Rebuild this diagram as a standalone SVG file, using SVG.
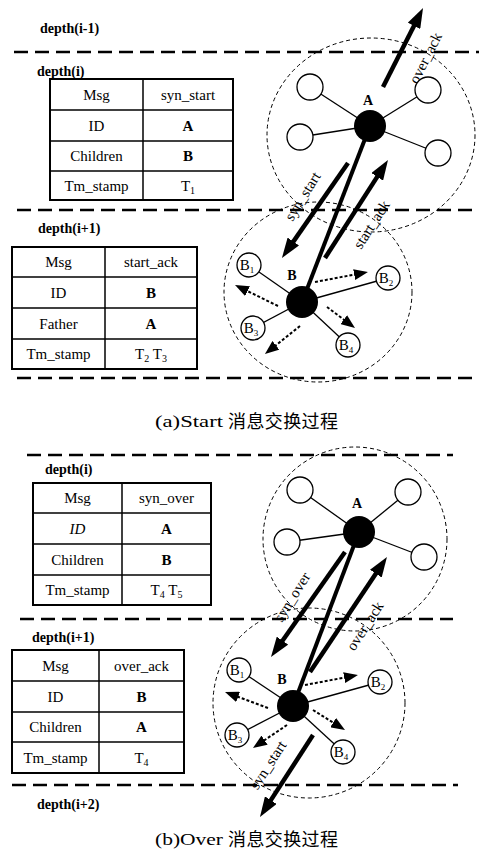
<svg xmlns="http://www.w3.org/2000/svg" width="479" height="852" viewBox="0 0 479 852">
<style>
.hd{stroke:#000;stroke-width:2.5;stroke-dasharray:14 7;fill:none}
.circ{fill:none;stroke:#000;stroke-width:1;stroke-dasharray:4 3}
.frame{fill:#fff;stroke:#000;stroke-width:2}
.grid{stroke:#000;stroke-width:1.5}
.t{font-family:"Liberation Serif",serif;font-size:15px;text-anchor:middle;fill:#000}
.b{font-weight:bold}
.dep{font-family:"Liberation Serif",serif;font-size:14px;font-weight:bold;fill:#000}
.lab{font-family:"Liberation Serif",serif;font-size:15px;text-anchor:middle;dominant-baseline:central;fill:#000}
.nl{font-family:"Liberation Serif",serif;font-size:14px;font-weight:bold;text-anchor:middle;fill:#000}
.open{fill:#fff;stroke:#000;stroke-width:1.3}
.hub{fill:#000}
.edge{stroke:#000;stroke-width:1.3}
.thick{stroke:#000;stroke-width:4;fill:none}
.thk{stroke:#000;stroke-width:4.5;fill:none;marker-end:url(#big)}
.dot{stroke:#000;stroke-width:2;stroke-dasharray:3 2;fill:none;marker-end:url(#small)}
.cap{font-family:"Liberation Serif",serif;font-size:17px;fill:#000}
.cjk{font-family:"Noto Sans CJK SC",sans-serif;font-size:18px;fill:#000}
</style>
<defs>
<marker id="big" markerUnits="userSpaceOnUse" markerWidth="20" markerHeight="14" refX="8" refY="7" orient="auto"><path d="M0,0 L20,7 L0,14 z" fill="#000"/></marker>
<marker id="small" markerUnits="userSpaceOnUse" markerWidth="14" markerHeight="11" refX="6" refY="5.5" orient="auto"><path d="M0,0 L14,5.5 L0,11 z" fill="#000"/></marker>
</defs>
<rect width="479" height="852" fill="#fff"/>

<!-- ===== (a) ===== -->
<g id="levels-a">
<text class="dep" x="40" y="33">depth(i-1)</text>
<line class="hd" x1="14" y1="52" x2="479" y2="52"/>
<text class="dep" x="37" y="76">depth(i)</text>
<line class="hd" x1="17" y1="210" x2="479" y2="210"/>
<text class="dep" x="38" y="233">depth(i+1)</text>
<line class="hd" x1="17" y1="378" x2="479" y2="378"/>
</g>

<g id="table-syn-start">
<rect class="frame" x="50" y="79" width="183" height="121"/>
<line class="grid" x1="143" y1="79" x2="143" y2="200"/>
<line class="grid" x1="50" y1="110" x2="233" y2="110"/>
<line class="grid" x1="50" y1="141" x2="233" y2="141"/>
<line class="grid" x1="50" y1="171" x2="233" y2="171"/>
<text class="t" x="96.5" y="99.5">Msg</text><text class="t" x="188" y="99.5">syn_start</text>
<text class="t" x="96.5" y="130.5">ID</text><text class="t b" x="188" y="130.5">A</text>
<text class="t" x="96.5" y="161">Children</text><text class="t b" x="188" y="161">B</text>
<text class="t" x="96.5" y="190.5">Tm_stamp</text><text class="t" x="188" y="190.5">T<tspan font-size="10" dy="3">1</tspan></text>
</g>

<g id="table-start-ack">
<rect class="frame" x="12" y="247" width="185" height="122"/>
<line class="grid" x1="105" y1="247" x2="105" y2="369"/>
<line class="grid" x1="12" y1="277" x2="197" y2="277"/>
<line class="grid" x1="12" y1="308" x2="197" y2="308"/>
<line class="grid" x1="12" y1="339" x2="197" y2="339"/>
<text class="t" x="58.5" y="267">Msg</text><text class="t" x="151" y="267">start_ack</text>
<text class="t" x="58.5" y="297.5">ID</text><text class="t b" x="151" y="297.5">B</text>
<text class="t" x="58.5" y="328.5">Father</text><text class="t b" x="151" y="328.5">A</text>
<text class="t" x="58.5" y="359">Tm_stamp</text><text class="t" x="151" y="359">T<tspan font-size="10" dy="3">2</tspan><tspan dy="-3"> T</tspan><tspan font-size="10" dy="3">3</tspan></text>
</g>

<g id="range-A-a"><ellipse class="circ" cx="371" cy="135" rx="104" ry="97"/></g>
<g id="range-B-a"><ellipse class="circ" cx="318" cy="292" rx="94" ry="90"/></g>

<g id="connectors-a">
<line class="edge" x1="370" y1="126" x2="310" y2="87"/>
<line class="edge" x1="370" y1="126" x2="300" y2="137"/>
<line class="edge" x1="370" y1="126" x2="428" y2="90"/>
<line class="edge" x1="370" y1="126" x2="438" y2="153"/>
<line class="edge" x1="302" y1="302" x2="249" y2="265"/>
<line class="edge" x1="302" y1="302" x2="388" y2="278"/>
<line class="edge" x1="302" y1="302" x2="253" y2="328"/>
<line class="edge" x1="302" y1="302" x2="348" y2="345"/>
<line class="thick" x1="370" y1="126" x2="302" y2="302"/>
<path class="thk" d="M383,87 L417.6,18.7"/>
<path class="thk" d="M348,163 L288.8,248.1"/>
<path class="thk" d="M325,258 L381.5,170.1"/>
<path class="dot" d="M315,282 L360.1,273.5"/>
<path class="dot" d="M278,306 L242.2,288.5"/>
<path class="dot" d="M300,326 L271.2,349"/>
<path class="dot" d="M327,307 L348.6,323.2"/>
<text class="lab" transform="translate(425.5,58) rotate(-63)">over_ack</text>
<text class="lab" transform="translate(302.5,196.4) rotate(-58)">syn_start</text>
<text class="lab" transform="translate(371.5,224.6) rotate(-57)">start_ack</text>
</g>

<g id="node-A-a">
<circle class="open" cx="310" cy="87" r="13"/>
<circle class="open" cx="300" cy="137" r="13"/>
<circle class="open" cx="428" cy="90" r="13"/>
<circle class="open" cx="438" cy="153" r="13"/>
<circle class="hub" cx="370" cy="126" r="16"/>
<text class="nl" x="368" y="105">A</text>
</g>

<g id="node-B-a">
<circle class="open" cx="249" cy="265" r="12"/>
<text class="t" x="247" y="270">B<tspan font-size="9" dy="3">1</tspan></text>
<circle class="open" cx="388" cy="278" r="12"/>
<text class="t" x="386" y="283">B<tspan font-size="9" dy="3">2</tspan></text>
<circle class="open" cx="253" cy="328" r="12"/>
<text class="t" x="251" y="333">B<tspan font-size="9" dy="3">3</tspan></text>
<circle class="open" cx="348" cy="345" r="12"/>
<text class="t" x="346" y="350">B<tspan font-size="9" dy="3">4</tspan></text>
<circle class="hub" cx="302" cy="302" r="16"/>
<text class="nl" x="292" y="280">B</text>
</g>

<g id="caption-a">
<text class="cap" x="155" y="427" textLength="68" lengthAdjust="spacingAndGlyphs">(a)Start</text>
<text class="cjk" x="228" y="428" textLength="110" lengthAdjust="spacing">消息交换过程</text>
</g>

<!-- ===== (b) ===== -->
<g id="levels-b">
<line class="hd" x1="27" y1="455" x2="453" y2="455"/>
<text class="dep" x="45" y="474">depth(i)</text>
<line class="hd" x1="20" y1="619" x2="453" y2="619"/>
<text class="dep" x="32" y="642">depth(i+1)</text>
<line class="hd" x1="12" y1="785" x2="458" y2="785"/>
<text class="dep" x="37" y="809">depth(i+2)</text>
</g>

<g id="table-syn-over">
<rect class="frame" x="33" y="483" width="178" height="122"/>
<line class="grid" x1="122" y1="483" x2="122" y2="605"/>
<line class="grid" x1="33" y1="513" x2="211" y2="513"/>
<line class="grid" x1="33" y1="544" x2="211" y2="544"/>
<line class="grid" x1="33" y1="575" x2="211" y2="575"/>
<text class="t" x="77.5" y="503">Msg</text><text class="t" x="166.5" y="503">syn_over</text>
<text class="t" x="77.5" y="533.5" font-style="italic">ID</text><text class="t b" x="166.5" y="533.5">A</text>
<text class="t" x="77.5" y="564.5">Children</text><text class="t b" x="166.5" y="564.5">B</text>
<text class="t" x="77.5" y="595">Tm_stamp</text><text class="t" x="166.5" y="595">T<tspan font-size="10" dy="3">4</tspan><tspan dy="-3"> T</tspan><tspan font-size="10" dy="3">5</tspan></text>
</g>

<g id="table-over-ack">
<rect class="frame" x="12" y="650" width="172" height="123"/>
<line class="grid" x1="99" y1="650" x2="99" y2="773"/>
<line class="grid" x1="12" y1="681" x2="184" y2="681"/>
<line class="grid" x1="12" y1="712" x2="184" y2="712"/>
<line class="grid" x1="12" y1="742" x2="184" y2="742"/>
<text class="t" x="55.5" y="670.5">Msg</text><text class="t" x="141.5" y="670.5">over_ack</text>
<text class="t" x="55.5" y="701.5">ID</text><text class="t b" x="141.5" y="701.5">B</text>
<text class="t" x="55.5" y="732">Children</text><text class="t b" x="141.5" y="732">A</text>
<text class="t" x="55.5" y="762.5">Tm_stamp</text><text class="t" x="141.5" y="762.5">T<tspan font-size="10" dy="3">4</tspan></text>
</g>

<g id="range-A-b"><ellipse class="circ" cx="355" cy="539" rx="92" ry="92"/></g>
<g id="range-B-b"><ellipse class="circ" cx="309" cy="703" rx="96" ry="95"/></g>

<g id="connectors-b">
<line class="edge" x1="359" y1="532" x2="300" y2="490"/>
<line class="edge" x1="359" y1="532" x2="287" y2="542"/>
<line class="edge" x1="359" y1="532" x2="408" y2="492"/>
<line class="edge" x1="359" y1="532" x2="424" y2="557"/>
<line class="edge" x1="293" y1="706" x2="239" y2="670"/>
<line class="edge" x1="293" y1="706" x2="380" y2="682"/>
<line class="edge" x1="293" y1="706" x2="237" y2="735"/>
<line class="edge" x1="293" y1="706" x2="343" y2="752"/>
<line class="thick" x1="359" y1="532" x2="293" y2="706"/>
<path class="thk" d="M345,552 L277.9,647.2"/>
<path class="thk" d="M310,672 L380.3,567"/>
<path class="thk" d="M313,735 L266.5,806.9"/>
<path class="dot" d="M305,685 L350.1,676.5"/>
<path class="dot" d="M268,708 L232.5,694.8"/>
<path class="dot" d="M287,725 L259.6,743.5"/>
<path class="dot" d="M313,710 L338.2,725.8"/>
<text class="lab" transform="translate(292,597) rotate(-58)">syn_over</text>
<text class="lab" transform="translate(365,626) rotate(-57)">over_ack</text>
<text class="lab" transform="translate(268,765) rotate(-57)">syn_start</text>
</g>

<g id="node-A-b">
<circle class="open" cx="300" cy="490" r="13"/>
<circle class="open" cx="287" cy="542" r="13"/>
<circle class="open" cx="408" cy="492" r="13"/>
<circle class="open" cx="424" cy="557" r="13"/>
<circle class="hub" cx="359" cy="532" r="16"/>
<text class="nl" x="357" y="508">A</text>
</g>

<g id="node-B-b">
<circle class="open" cx="239" cy="670" r="12"/>
<text class="t" x="237" y="675">B<tspan font-size="9" dy="3">1</tspan></text>
<circle class="open" cx="380" cy="682" r="12"/>
<text class="t" x="378" y="687">B<tspan font-size="9" dy="3">2</tspan></text>
<circle class="open" cx="237" cy="735" r="12"/>
<text class="t" x="235" y="740">B<tspan font-size="9" dy="3">3</tspan></text>
<circle class="open" cx="343" cy="752" r="12"/>
<text class="t" x="341" y="757">B<tspan font-size="9" dy="3">4</tspan></text>
<circle class="hub" cx="293" cy="706" r="16"/>
<text class="nl" x="282" y="684">B</text>
</g>

<g id="caption-b">
<text class="cap" x="155" y="845" textLength="68" lengthAdjust="spacingAndGlyphs">(b)Over</text>
<text class="cjk" x="228" y="846" textLength="110" lengthAdjust="spacing">消息交换过程</text>
</g>
</svg>
